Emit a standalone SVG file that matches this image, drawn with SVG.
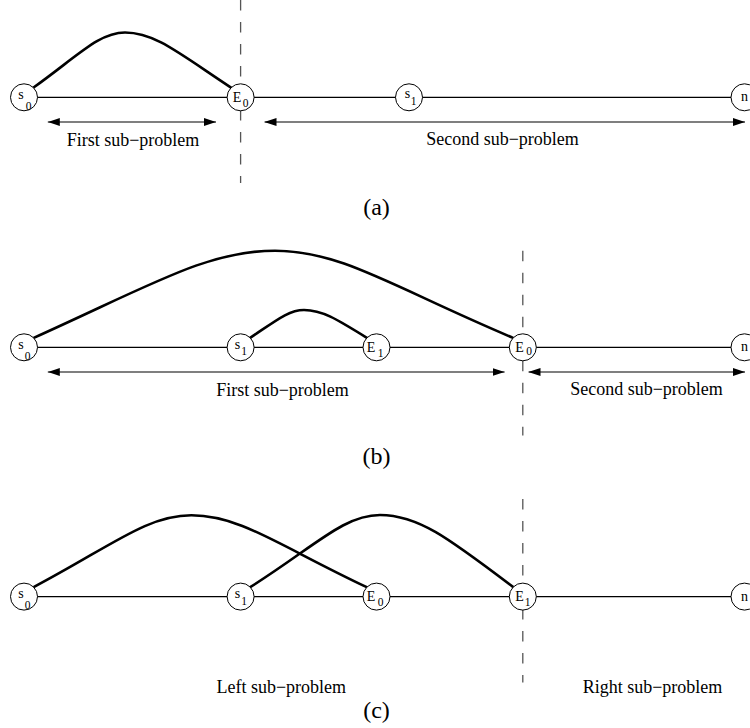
<svg xmlns="http://www.w3.org/2000/svg" width="750" height="728" viewBox="0 0 750 728">
<style>
.base{stroke:#000;stroke-width:1.2;fill:none}
.arc{stroke:#000;stroke-width:2.6;fill:none;stroke-linecap:round}
.dim{stroke:#555;stroke-width:1.4;fill:none;marker-start:url(#ah);marker-end:url(#ah)}
.cut{stroke:#555;stroke-width:1.3;fill:none;stroke-dasharray:10.5 11.5}
.node circle{fill:#fff;stroke:#000;stroke-width:1}
.node text{font-family:"Liberation Serif","Times New Roman",serif;text-anchor:middle;fill:#000}
.m{font-size:14px}
.sub{font-size:11.5px}
.lbl{font-family:"Liberation Serif","Times New Roman",serif;font-size:18px;text-anchor:middle;fill:#000}
.cap{font-family:"Liberation Serif","Times New Roman",serif;font-size:24px;text-anchor:middle;fill:#000}
</style>
<defs>
<marker id="ah" markerUnits="userSpaceOnUse" markerWidth="12" markerHeight="8" refX="12" refY="4" orient="auto-start-reverse">
<path d="M0,0 L12,4 L0,8 z" fill="#000"/>
</marker>
</defs>
<rect width="750" height="728" fill="#fff"/>
<g id="connectors">
<line class="cut" x1="240.6" y1="0" x2="240.6" y2="183"/>
<line class="cut" x1="522.8" y1="250.7" x2="522.8" y2="435.5"/>
<line class="cut" x1="522.8" y1="499" x2="522.8" y2="682.5"/>
<line class="base" x1="24" y1="97.3" x2="744" y2="97.3"/>
<line class="base" x1="24" y1="347.3" x2="744" y2="347.3"/>
<line class="base" x1="24" y1="596.6" x2="744" y2="596.6"/>
<path class="arc" d="M33.2,87.8 C79.1,54.8 99.3,32.5 125,32.5 C154.8,32.5 178.2,52.7 231.4,87.8"/>
<path class="arc" d="M33.2,338.1 C154.1,283.7 207.3,250.7 275,250.7 C341.8,250.7 394.3,288 513.6,338.1"/>
<path class="arc" d="M249.8,338.1 C276.9,319.9 288.8,310 304,310 C321.7,310 335.6,318.4 367.3,338.1"/>
<path class="arc" d="M33.2,587.4 C112.3,545.5 147.1,515.3 191.4,515.3 C240.7,515.3 279.3,546 367.3,587.4"/>
<path class="arc" d="M249.8,587.4 C314.9,546.4 343.5,515 380,515 C417.4,515 446.8,536.6 513.6,587.4"/>
<line class="dim" x1="47.8" y1="122" x2="216" y2="122"/>
<line class="dim" x1="264.5" y1="122" x2="745" y2="122"/>
<line class="dim" x1="47.8" y1="372" x2="504.6" y2="372"/>
<line class="dim" x1="528.5" y1="372" x2="745" y2="372"/>
</g>
<g id="a-s0" class="node"><circle cx="24" cy="97.3" r="13.5"/><text class="m" x="21" y="98.5">s</text><text class="sub" x="28.5" y="109.5">0</text></g>
<g id="a-E0" class="node"><circle cx="240.6" cy="97.3" r="13.5"/><text class="m" x="237" y="101.5">E</text><text class="sub" x="245.5" y="107">0</text></g>
<g id="a-s1" class="node"><circle cx="409" cy="97.3" r="13.5"/><text class="m" x="407.5" y="97.5">s</text><text class="sub" x="413.5" y="105">1</text></g>
<g id="a-n" class="node"><circle cx="744.5" cy="97.3" r="13.5"/><text class="m" x="744.5" y="101">n</text></g>
<g id="b-s0" class="node"><circle cx="24" cy="347.3" r="13.5"/><text class="m" x="21" y="349">s</text><text class="sub" x="27.5" y="359.5">0</text></g>
<g id="b-s1" class="node"><circle cx="240.6" cy="347.3" r="13.5"/><text class="m" x="237.5" y="349">s</text><text class="sub" x="244" y="355">1</text></g>
<g id="b-E1" class="node"><circle cx="376.5" cy="347.3" r="13.5"/><text class="m" x="371" y="351.5">E</text><text class="sub" x="380.5" y="356.5">1</text></g>
<g id="b-E0" class="node"><circle cx="522.8" cy="347.3" r="13.5"/><text class="m" x="519.5" y="351.5">E</text><text class="sub" x="529" y="355">0</text></g>
<g id="b-n" class="node"><circle cx="744.5" cy="347.3" r="13.5"/><text class="m" x="744.5" y="351">n</text></g>
<g id="c-s0" class="node"><circle cx="24" cy="596.6" r="13.5"/><text class="m" x="21" y="598">s</text><text class="sub" x="27.5" y="608.5">0</text></g>
<g id="c-s1" class="node"><circle cx="240.6" cy="596.6" r="13.5"/><text class="m" x="237.5" y="598">s</text><text class="sub" x="244" y="604.5">1</text></g>
<g id="c-E0" class="node"><circle cx="376.5" cy="596.6" r="13.5"/><text class="m" x="371" y="601">E</text><text class="sub" x="380.5" y="606">0</text></g>
<g id="c-E1" class="node"><circle cx="522.8" cy="596.6" r="13.5"/><text class="m" x="519.5" y="601">E</text><text class="sub" x="527.5" y="606">1</text></g>
<g id="c-n" class="node"><circle cx="744.5" cy="596.6" r="13.5"/><text class="m" x="744.5" y="600.5">n</text></g>
<g id="labels">
<text class="lbl" x="133" y="145.5">First sub−problem</text>
<text class="lbl" x="502.5" y="145">Second sub−problem</text>
<text class="cap" x="376.5" y="214.8">(a)</text>
<text class="lbl" x="282.5" y="395.5">First sub−problem</text>
<text class="lbl" x="646.5" y="395">Second sub−problem</text>
<text class="cap" x="376.5" y="464.2">(b)</text>
<text class="lbl" x="281.3" y="693.3">Left sub−problem</text>
<text class="lbl" x="652.5" y="692.7">Right sub−problem</text>
<text class="cap" x="376.5" y="717.5">(c)</text>
</g>
</svg>
